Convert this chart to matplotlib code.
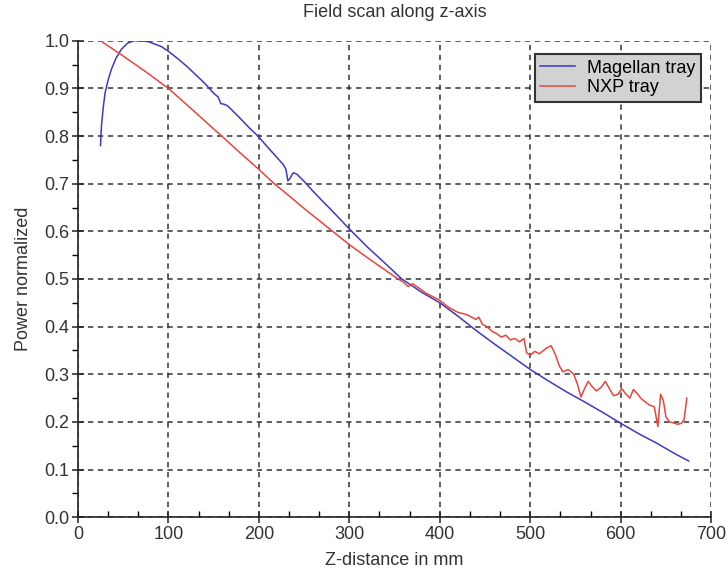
import matplotlib.pyplot as plt
from matplotlib.ticker import MultipleLocator

# field scan readings, z-distance in mm vs normalized power
magellan_z = [25, 26, 28, 30, 33, 37, 42, 48, 55, 62, 70, 78, 85, 92, 100,
              110, 120, 130, 140, 150, 155, 158, 161, 165, 170, 180, 190, 199,
              210, 220, 227, 230, 232, 234, 238, 242, 250, 260, 270, 280, 290,
              300, 320, 340, 358, 380, 400, 420, 440, 460, 480, 500, 520, 540,
              560, 580, 600, 620, 640, 660, 675]
magellan_p = [0.78, 0.82, 0.86, 0.89, 0.915, 0.94, 0.963, 0.982, 0.995, 1.0,
              1.0, 0.998, 0.993, 0.988, 0.978, 0.963, 0.947, 0.929, 0.911,
              0.89, 0.882, 0.868, 0.867, 0.864, 0.855, 0.836, 0.816, 0.80,
              0.776, 0.755, 0.74, 0.73, 0.706, 0.71, 0.723, 0.72, 0.705,
              0.684, 0.664, 0.645, 0.625, 0.605, 0.567, 0.532, 0.50, 0.472,
              0.45, 0.422, 0.392, 0.364, 0.337, 0.31, 0.286, 0.263, 0.242,
              0.22, 0.197, 0.175, 0.155, 0.133, 0.118]

nxp_z = [25, 50, 75, 100, 125, 150, 159, 175, 200, 217, 235, 250, 275, 300,
         325, 350, 360, 365, 370, 385, 400, 410, 420, 430, 440, 443, 447, 452,
         458, 463, 468, 473, 478, 483, 488, 493, 496, 500, 505, 510, 518, 523,
         528, 532, 536, 542, 548, 552, 556, 560, 564, 568, 573, 578, 583, 588,
         592, 597, 601, 605, 610, 614, 618, 622, 627, 632, 637, 641, 644, 647,
         650, 654, 658, 663, 667, 670, 673]
nxp_p = [1.0, 0.968, 0.935, 0.90, 0.858, 0.815, 0.80, 0.772, 0.73, 0.70,
         0.672, 0.648, 0.61, 0.572, 0.538, 0.505, 0.493, 0.484, 0.49, 0.47,
         0.455, 0.44, 0.43, 0.425, 0.415, 0.42, 0.405, 0.40, 0.39, 0.385,
         0.378, 0.382, 0.372, 0.375, 0.368, 0.375, 0.345, 0.34, 0.348, 0.343,
         0.355, 0.36, 0.34, 0.318, 0.305, 0.31, 0.30, 0.28, 0.252, 0.27,
         0.285, 0.275, 0.265, 0.272, 0.285, 0.268, 0.255, 0.258, 0.27, 0.26,
         0.25, 0.268, 0.26, 0.25, 0.242, 0.235, 0.232, 0.19, 0.258, 0.245,
         0.21, 0.2, 0.198, 0.195, 0.197, 0.205, 0.25]

plt.rcParams['font.family'] = ['Liberation Sans', 'DejaVu Sans']
fs = 13

fig = plt.figure(figsize=(7.28, 5.74), dpi=100)
ax = fig.add_axes([0.107, 0.099, 0.870, 0.830])

ax.plot(magellan_z, magellan_p, color='#3a3ac4', lw=1.1, label='Magellan tray')
ax.plot(nxp_z, nxp_p, color='#e8453c', lw=1.1, label='NXP tray')

ax.set_xlim(0, 700)
ax.set_ylim(0, 1.0)
ax.xaxis.set_major_locator(MultipleLocator(100))
ax.xaxis.set_minor_locator(MultipleLocator(100 / 3))
ax.yaxis.set_major_locator(MultipleLocator(0.1))
ax.yaxis.set_minor_locator(MultipleLocator(0.05))
ax.yaxis.set_major_formatter(lambda v, p: f'{v:.1f}')

ax.grid(True, which='major', color='#333333', lw=1.1, linestyle=(0, (3.5, 3)))
ax.spines['top'].set_visible(False)
ax.spines['right'].set_visible(False)
for s in ('left', 'bottom'):
    ax.spines[s].set_linewidth(1.2)
    ax.spines[s].set_color('#222222')

ax.tick_params(which='major', direction='inout', length=8, width=1.1,
               labelsize=fs, colors='#222222', labelcolor='#333333', pad=2)
ax.tick_params(axis='x', which='minor', direction='in', length=4, width=1)
ax.tick_params(axis='y', which='minor', direction='out', length=4, width=1)

ax.set_title('Field scan along z-axis', fontsize=fs, color='#333333', pad=17)
ax.set_xlabel('Z-distance in mm', fontsize=fs, color='#333333', labelpad=7)
ax.set_ylabel('Power normalized', fontsize=fs, color='#333333', labelpad=9)

leg = ax.legend(loc='upper right', bbox_to_anchor=(0.984, 0.972),
                borderaxespad=0, fancybox=False, fontsize=fs,
                handlelength=1.9, handletextpad=0.7, borderpad=0.3,
                labelspacing=0.15)
leg.get_frame().set_facecolor('#d2d2d2')
leg.get_frame().set_edgecolor('#333333')
leg.get_frame().set_linewidth(1.5)
leg.get_frame().set_alpha(1)

fig.savefig('out.png', dpi=100)
